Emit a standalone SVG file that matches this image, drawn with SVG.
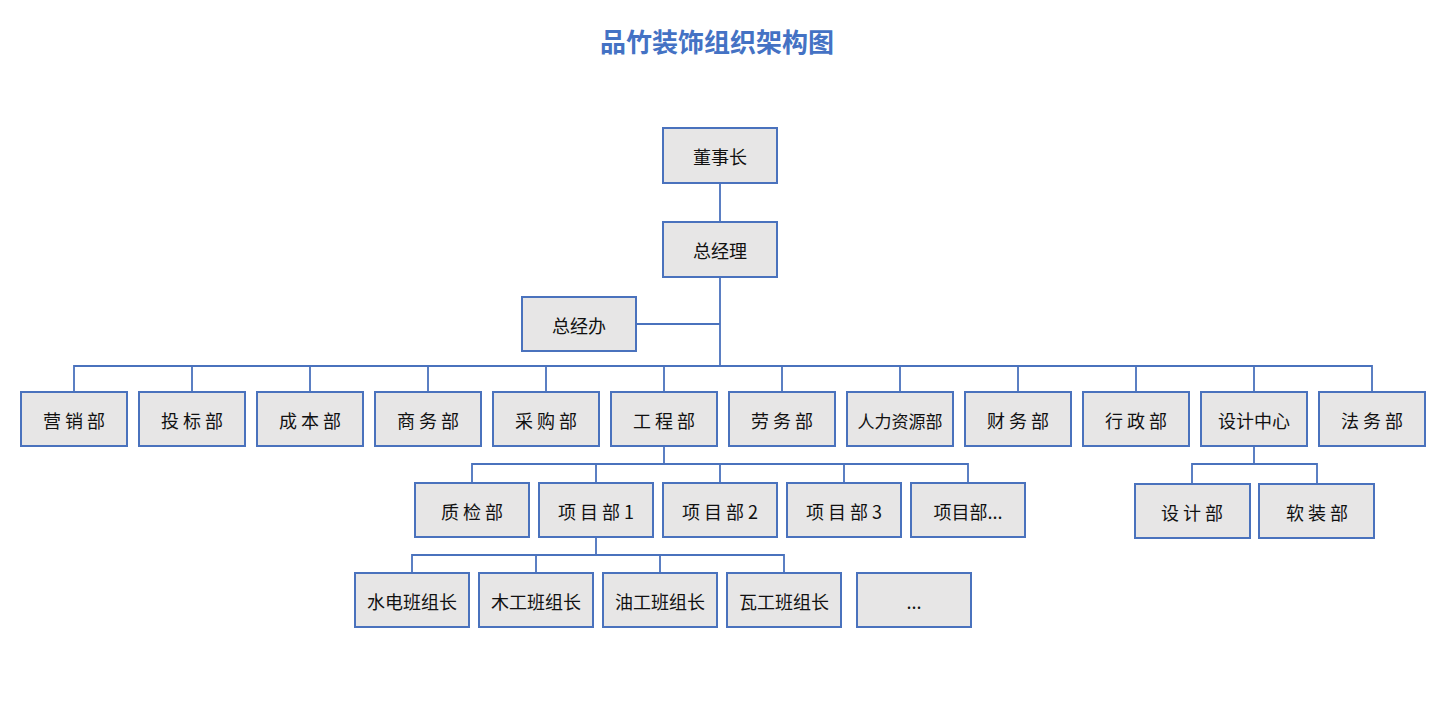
<svg xmlns="http://www.w3.org/2000/svg" width="1440" height="710" viewBox="0 0 1440 710">
<style>
.b{fill:#e7e6e6;stroke:#4a72bd;stroke-width:2}
.t{font-family:"Noto Sans CJK SC","Noto Sans",sans-serif;font-size:18px;fill:#111;text-anchor:middle;dominant-baseline:central}
.c{stroke:#4a72bd;stroke-width:1.8;fill:none}
</style>
<rect width="1440" height="710" fill="#fff"/>
<text x="717" y="40" style="font-family:'Noto Sans CJK SC',sans-serif;font-size:26px;font-weight:bold;fill:#4472c4;text-anchor:middle;dominant-baseline:central">品竹装饰组织架构图</text>
<g id="connectors">
<path class="c" d="M720 183V222M720 277V366" stroke-width="2.5"/>
<path class="c" d="M636 324H720"/>
<path class="c" d="M74 392V366H1372V392M192 366V392M310 366V392M428 366V392M546 366V392M664 366V392M782 366V392M900 366V392M1018 366V392M1136 366V392M1254 366V392"/>
<path class="c" d="M664 446V464M472 483V464H968V483M596 464V483M720 464V483M844 464V483"/>
<path class="c" d="M596 537V555M412 573V555H784V573M536 555V573M660 555V573"/>
<path class="c" d="M1254 446V464M1192 484V464H1317V484"/>
</g>
<g id="n0"><rect class="b" x="663" y="128" width="114" height="55"/><text class="t" x="720" y="156">董事长</text></g>
<g id="n1"><rect class="b" x="663" y="222" width="114" height="55"/><text class="t" x="720" y="250">总经理</text></g>
<g id="n2"><rect class="b" x="522" y="297" width="114" height="54"/><text class="t" x="579" y="325">总经办</text></g>
<g id="d1"><rect class="b" x="21" y="392" width="106" height="54"/><text class="t" x="74" y="420">营 销 部</text></g>
<g id="d2"><rect class="b" x="139" y="392" width="106" height="54"/><text class="t" x="192" y="420">投 标 部</text></g>
<g id="d3"><rect class="b" x="257" y="392" width="106" height="54"/><text class="t" x="310" y="420">成 本 部</text></g>
<g id="d4"><rect class="b" x="375" y="392" width="106" height="54"/><text class="t" x="428" y="420">商 务 部</text></g>
<g id="d5"><rect class="b" x="493" y="392" width="106" height="54"/><text class="t" x="546" y="420">采 购 部</text></g>
<g id="d6"><rect class="b" x="611" y="392" width="106" height="54"/><text class="t" x="664" y="420">工 程 部</text></g>
<g id="d7"><rect class="b" x="729" y="392" width="106" height="54"/><text class="t" x="782" y="420">劳 务 部</text></g>
<g id="d8"><rect class="b" x="847" y="392" width="106" height="54"/><text class="t" x="900" y="420" style="font-size:17px">人力资源部</text></g>
<g id="d9"><rect class="b" x="965" y="392" width="106" height="54"/><text class="t" x="1018" y="420">财 务 部</text></g>
<g id="d10"><rect class="b" x="1083" y="392" width="106" height="54"/><text class="t" x="1136" y="420">行 政 部</text></g>
<g id="d11"><rect class="b" x="1201" y="392" width="106" height="54"/><text class="t" x="1254" y="420">设计中心</text></g>
<g id="d12"><rect class="b" x="1319" y="392" width="106" height="54"/><text class="t" x="1372" y="420">法 务 部</text></g>
<g id="p0"><rect class="b" x="415" y="483" width="114" height="54"/><text class="t" x="472" y="511">质 检 部</text></g>
<g id="p1"><rect class="b" x="539" y="483" width="114" height="54"/><text class="t" x="596" y="511">项 目 部 1</text></g>
<g id="p2"><rect class="b" x="663" y="483" width="114" height="54"/><text class="t" x="720" y="511">项 目 部 2</text></g>
<g id="p3"><rect class="b" x="787" y="483" width="114" height="54"/><text class="t" x="844" y="511">项 目 部 3</text></g>
<g id="p4"><rect class="b" x="911" y="483" width="114" height="54"/><text class="t" x="968" y="511">项目部...</text></g>
<g id="s1"><rect class="b" x="1135" y="484" width="115" height="54"/><text class="t" x="1192" y="512">设 计 部</text></g>
<g id="s2"><rect class="b" x="1259" y="484" width="115" height="54"/><text class="t" x="1317" y="512">软 装 部</text></g>
<g id="w1"><rect class="b" x="355" y="573" width="114" height="54"/><text class="t" x="412" y="601">水电班组长</text></g>
<g id="w2"><rect class="b" x="479" y="573" width="114" height="54"/><text class="t" x="536" y="601">木工班组长</text></g>
<g id="w3"><rect class="b" x="603" y="573" width="114" height="54"/><text class="t" x="660" y="601">油工班组长</text></g>
<g id="w4"><rect class="b" x="727" y="573" width="114" height="54"/><text class="t" x="784" y="601">瓦工班组长</text></g>
<g id="w5"><rect class="b" x="857" y="573" width="114" height="54"/><text class="t" x="914" y="601">...</text></g>
</svg>
